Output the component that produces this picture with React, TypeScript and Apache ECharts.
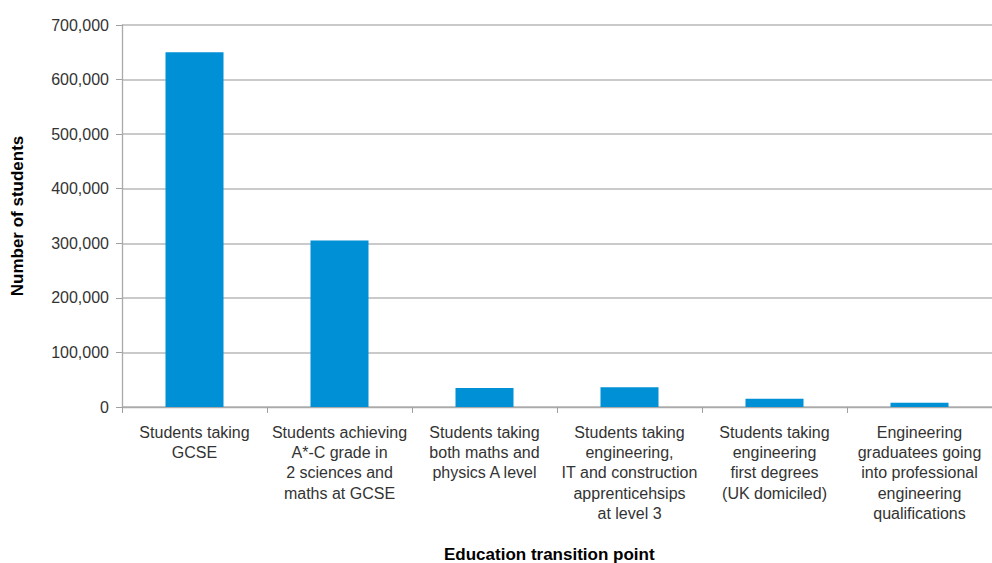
import React, { useEffect, useRef } from "react";
import * as echarts from "echarts";

const categories: string[] = [
  "Students taking\nGCSE",
  "Students achieving\nA*-C grade in\n2 sciences and\nmaths at GCSE",
  "Students taking\nboth maths and\nphysics A level",
  "Students taking\nengineering,\nIT and construction\napprenticehsips\nat level 3",
  "Students taking\nengineering\nfirst degrees\n(UK domiciled)",
  "Engineering\ngraduatees going\ninto professional\nengineering\nqualifications",
];

const studentCounts: number[] = [650000, 305000, 35000, 36000, 15000, 8000];

const yAxisTitle = "Number of students";
const xAxisTitle = "Education transition point";

export default function App() {
  const ref = useRef<HTMLDivElement>(null);

  useEffect(() => {
    if (!ref.current) return;
    const chart = echarts.init(ref.current, undefined, { renderer: "svg" });
    const font = "'Liberation Sans', Arial, sans-serif";
    chart.setOption({
      animation: false,
      backgroundColor: "#ffffff",
      grid: { left: 122, right: -3, top: 25, bottom: 156, containLabel: false },
      graphic: [
        {
          type: "text",
          left: 551 - 107,
          top: 546,
          style: {
            text: xAxisTitle,
            fontFamily: font,
            fontSize: 17,
            fontWeight: "bold",
            fill: "#000",
          },
        },
      ],
      xAxis: {
        type: "category",
        data: categories,
        axisLine: { lineStyle: { color: "#aaaaaa", width: 1.3 } },
        axisTick: { show: true, length: 6, lineStyle: { color: "#a0a0a0" } },
        axisLabel: {
          interval: 0,
          margin: 15,
          fontFamily: font,
          fontSize: 16,
          lineHeight: 20.3,
          color: "#333",
          align: "center",
        },
      },
      yAxis: {
        type: "value",
        min: 0,
        max: 700000,
        interval: 100000,
        name: yAxisTitle,
        nameLocation: "middle",
        nameRotate: 90,
        nameGap: 96,
        nameTextStyle: { fontFamily: font, fontSize: 17, fontWeight: "bold", color: "#000" },
        axisLine: { show: true, lineStyle: { color: "#aaaaaa", width: 1.3 } },
        axisTick: { show: true, length: 6, lineStyle: { color: "#a0a0a0" } },
        splitLine: { lineStyle: { color: "#b8b8b8", width: 1.5 } },
        axisLabel: {
          margin: 13,
          fontFamily: font,
          fontSize: 16,
          color: "#333",
          formatter: (v: number) => v.toLocaleString("en-GB"),
        },
      },
      series: [
        {
          type: "bar",
          data: studentCounts,
          barWidth: 58,
          itemStyle: { color: "#0090d6" },
        },
      ],
    });
    return () => chart.dispose();
  }, []);

  return (
    <div
      ref={ref}
      style={{ position: "fixed", left: 0, top: 0, width: 992, height: 563 }}
    />
  );
}
